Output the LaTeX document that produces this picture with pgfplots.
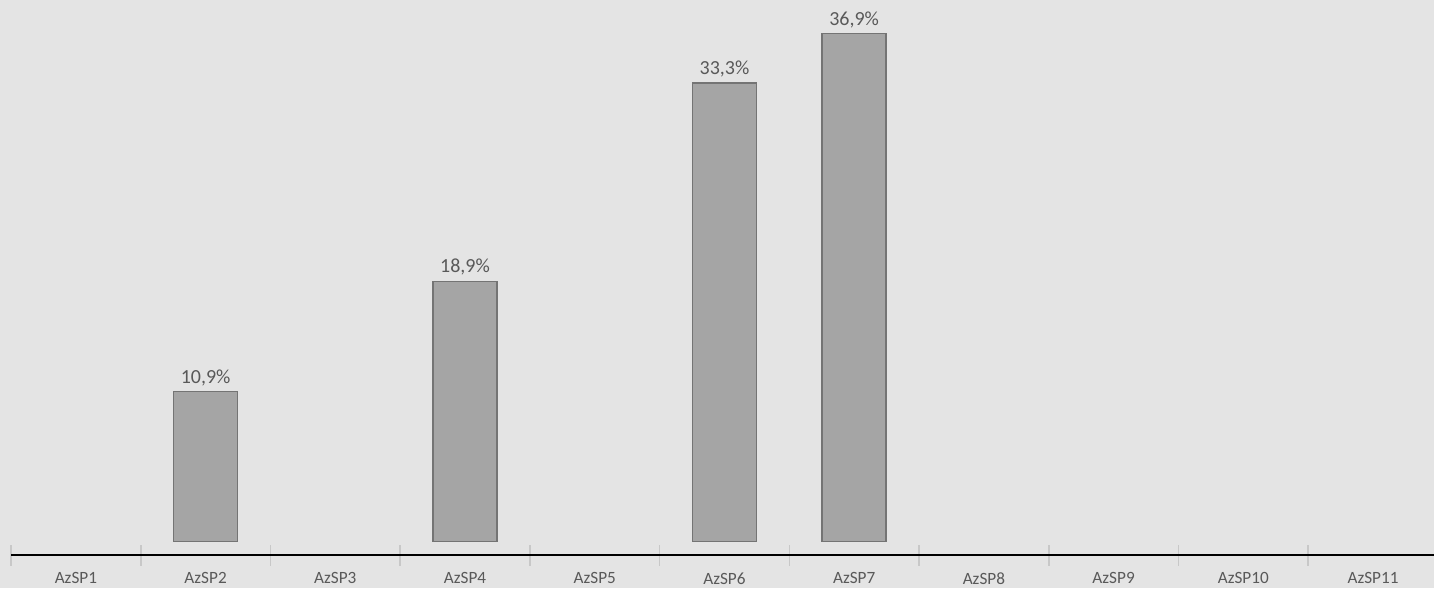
\documentclass[border=0pt]{standalone}
\usepackage{fontspec}
\setmainfont{Carlito}
\usepackage{pgfplots}
\pgfplotsset{compat=1.18}
\definecolor{bg}{HTML}{E4E4E4}
\definecolor{barfill}{HTML}{A5A5A5}
\definecolor{bardraw}{HTML}{747474}
\definecolor{txt}{HTML}{595959}
\definecolor{tickc}{HTML}{C8C8C8}
\begin{document}
\begin{tikzpicture}
\begin{axis}[
  set layers,
  scale only axis,
  x=64.9pt, y=6.89pt,
  xmin=-0.5, xmax=10.471,
  ymin=-1.0, ymax=39.33,
  clip=false,
  axis x line=bottom,
  axis y line=none,
  x axis line style={draw=none, -},
  xtick={0,1,2,3,4,5,6,7,8,9,10},
  xticklabels={AzSP1,AzSP2,AzSP3,AzSP4,AzSP5,AzSP6,AzSP7,AzSP8,AzSP9,AzSP10,AzSP11},
  major tick length=0pt,
  xtick style={draw=tickc, line width=0.8pt},
  xticklabel style={font=\fontsize{8.6}{10}\selectfont, text=txt, yshift=-5pt},
  extra x ticks={-0.5,0.5,1.5,2.5,3.5,4.5,5.5,6.5,7.5,8.5,9.5},
  extra x tick labels={},
  extra x tick style={major tick length=10.5pt, tick align=center, tick style={draw=tickc, line width=0.8pt}},
  ybar,
  bar width=32pt,
  /pgf/number format/assume math mode=true,
  nodes near coords={\pgfmathprintnumber[fixed, fixed zerofill, precision=1, use comma, assume math mode=true]{\pgfplotspointmeta}\%},
  every node near coord/.append style={font=\fontsize{10}{12}\selectfont, text=txt, yshift=-0.8pt},
]
\begin{pgfonlayer}{axis background}
\path[fill=bg] (axis cs:-0.585,-3.34) rectangle (axis cs:10.471,39.33);
\end{pgfonlayer}
\begin{pgfonlayer}{axis lines}
\draw[black, line width=0.9pt] (axis cs:-0.5,-1.0) -- (axis cs:10.471,-1.0);
\end{pgfonlayer}
\addplot[fill=barfill, draw=bardraw, line width=0.8pt] coordinates {(1,10.9) (3,18.9) (5,33.3) (6,36.9)};
\end{axis}
\end{tikzpicture}
\end{document}
